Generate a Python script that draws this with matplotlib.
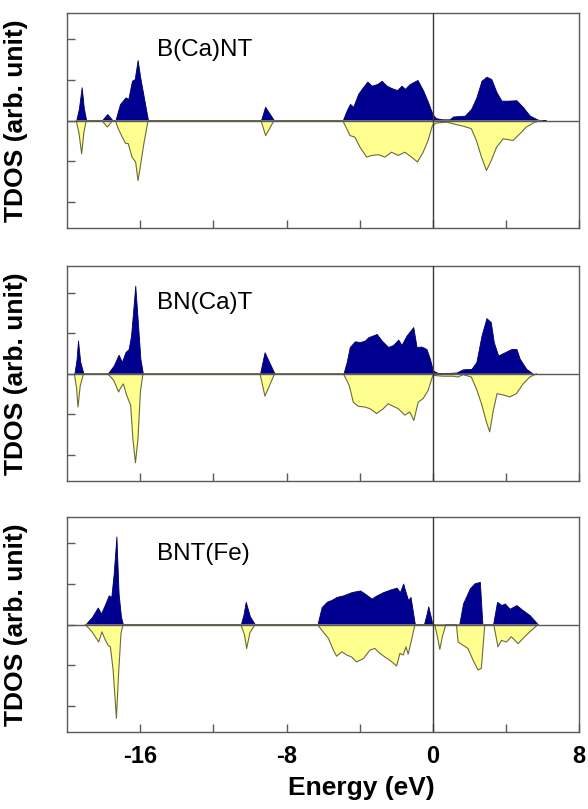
"""Spin-resolved TDOS of three doped BN nanotubes, stacked panels."""

import matplotlib

matplotlib.use("Agg")
import matplotlib.pyplot as plt
from matplotlib.ticker import FixedLocator, NullFormatter

plt.rcParams["font.family"] = ["Liberation Sans", "DejaVu Sans"]
plt.rcParams["axes.unicode_minus"] = False

# ---- data (energy in eV, DOS in arb. units) ----
labels = ["B(Ca)NT", "BN(Ca)T", "BNT(Fe)"]

# B(Ca)NT
e_up1 = [-19.5, -19.35, -19.2, -19.08, -18.95,
         -18.1, -17.8, -17.5,
         -17.36, -17.1, -16.8, -16.65, -16.45, -16.3, -16.14, -16.0, -15.8, -15.57,
         -9.4, -9.17, -8.68,
         -4.93, -4.71, -4.53, -4.35, -4.08, -3.89, -3.58, -3.35, -3.04, -2.8, -2.53,
         -2.26, -1.95, -1.71, -1.53, -1.26, -0.84, -0.53, -0.26, -0.02, 0.16, 0.5,
         0.93, 1.1, 1.75, 2.1, 2.38, 2.66, 2.93, 3.2, 3.48, 3.75, 4.11, 4.57, 4.93,
         5.3, 5.75, 6.2]
dos_up1 = [0, 0.3, 0.82, 0.3, 0,
           0, 0.16, 0,
           0, 0.41, 0.57, 0.53, 0.98, 1.02, 1.49, 1.07, 0.57, 0,
           0, 0.34, 0,
           0, 0.25, 0.41, 0.34, 0.66, 0.78, 0.96, 0.86, 0.9, 0.98, 0.86,
           0.8, 0.75, 0.86, 0.78, 0.9, 1.0, 0.74, 0.45, 0.16, 0.06, 0.03,
           0.03, 0.1, 0.12, 0.29, 0.57, 0.98, 1.08, 1.02, 0.7, 0.49, 0.49, 0.5, 0.33,
           0.12, 0.02, 0]
e_dn1 = [-19.5, -19.35, -19.2, -19.08, -18.95,
         -18.1, -17.8, -17.5,
         -17.36, -17.2, -16.98, -16.8, -16.65, -16.45, -16.25, -16.12, -16.0, -15.8,
         -15.57,
         -9.4, -9.14, -8.68,
         -4.93, -4.71, -4.53, -4.26, -3.98, -3.62, -3.35, -2.98, -2.62, -2.26, -1.89,
         -1.53, -1.17, -0.84, -0.53, -0.26, -0.02, 0.2, 0.75, 1.29, 1.75, 2.1, 2.38,
         2.66, 2.93, 3.2, 3.48, 3.84, 4.38, 4.75, 5.11, 5.57, 6.0]
dos_dn1 = [0, -0.3, -0.82, -0.3, 0,
           0, -0.16, 0,
           0, -0.2, -0.41, -0.56, -0.57, -0.9, -1.02, -1.48, -1.15, -0.57,
           0,
           0, -0.37, 0,
           0, -0.2, -0.37, -0.41, -0.66, -0.9, -0.86, -0.84, -0.9, -0.78, -0.86,
           -0.78, -0.9, -1.02, -0.78, -0.49, -0.12, -0.06, -0.04, -0.1, -0.15, -0.2,
           -0.49, -0.9, -1.23, -0.98, -0.66, -0.45, -0.49, -0.33, -0.16, -0.04, 0]

# BN(Ca)T
e_up2 = [-19.6, -19.48, -19.4, -19.28, -19.1,
         -17.78, -17.45, -17.18, -17.0, -16.81, -16.63, -16.5, -16.39, -16.27,
         -16.14, -15.99, -15.85,
         -9.45, -9.2, -8.65,
         -4.89, -4.71, -4.54, -4.26, -3.98, -3.71, -3.53, -3.07, -2.8, -2.44, -2.17,
         -1.89, -1.71, -1.44, -1.07, -0.89, -0.62, -0.35, -0.16, 0.0, 0.27, 0.8,
         1.29, 1.65, 2.11, 2.38, 2.66, 2.93, 3.17, 3.33, 3.57, 3.93, 4.3, 4.57, 4.75,
         5.11, 5.48]
dos_up2 = [0, 0.35, 0.82, 0.3, 0,
           0, 0.2, 0.47, 0.29, 0.53, 0.61, 0.94, 1.52, 2.17,
           1.35, 0.37, 0,
           0, 0.53, 0,
           0, 0.29, 0.66, 0.8, 0.78, 0.82, 0.9, 0.98, 0.82, 0.66, 0.71,
           0.84, 0.71, 0.94, 1.15, 0.66, 0.67, 0.61, 0.37, 0.08, 0.02, 0.02,
           0.03, 0.11, 0.12, 0.29, 0.94, 1.37, 1.27, 0.78, 0.45, 0.53, 0.61, 0.61, 0.37,
           0.12, 0]
e_dn2 = [-19.6, -19.48, -19.4, -19.28, -19.1,
         -17.78, -17.45, -17.18, -17.05, -16.92, -16.74, -16.52, -16.4, -16.26,
         -16.12, -15.99, -15.85,
         -9.45, -9.18, -8.65,
         -4.89, -4.57, -4.35, -4.08, -3.71, -3.44, -3.07, -2.71, -2.44, -2.17, -1.89,
         -1.53, -1.26, -1.04, -0.8, -0.53, -0.26, 0.0, 0.56, 1.1, 1.38, 1.65, 2.1,
         2.38, 2.66, 2.93, 3.11, 3.29, 3.51, 3.84, 4.2, 4.57, 4.93, 5.3, 5.66]
dos_dn2 = [0, -0.35, -0.82, -0.3, 0,
           0, -0.16, -0.45, -0.33, -0.25, -0.53, -0.78, -1.6, -2.19,
           -1.6, -0.45, 0,
           0, -0.55, 0,
           0, -0.29, -0.7, -0.8, -0.82, -0.86, -0.98, -0.86, -0.74, -0.8, -0.86,
           -1.02, -0.94, -1.15, -0.7, -0.61, -0.41, -0.04, -0.06, -0.06, -0.08,
           -0.02, -0.08,
           -0.37, -0.74, -1.19, -1.43, -0.94, -0.49, -0.52, -0.57, -0.49, -0.25, -0.08,
           0]

# BNT(Fe)
e_up3 = [-19.0, -18.63, -18.32, -18.14, -17.9, -17.72, -17.58, -17.45, -17.3,
         -17.18, -17.05, -16.94,
         -10.5, -10.35, -10.23, -10.0, -9.72,
         -6.31, -6.08, -5.8, -5.53, -5.26, -4.89, -4.44, -3.98, -3.71, -3.35, -3.07,
         -2.71, -2.35, -1.98, -1.8, -1.62, -1.53, -1.35, -1.22, -0.98,
         -0.49, -0.35, -0.25, -0.12, -0.02,
         1.44, 1.65, 2.02, 2.29, 2.57, 2.71,
         3.29, 3.51, 3.75, 3.93, 4.2, 4.57, 4.93, 5.3, 5.75]
dos_up3 = [0, 0.19, 0.42, 0.27, 0.52, 0.72, 0.68, 1.25, 2.17,
           0.76, 0.19, 0,
           0, 0.25, 0.56, 0.2, 0,
           0, 0.43, 0.56, 0.61, 0.68, 0.72, 0.8, 0.84, 0.76, 0.64, 0.72,
           0.8, 0.86, 0.91, 0.8, 1.01, 0.86, 0.6, 0.68, 0,
           0, 0.25, 0.45, 0.2, 0,
           0, 0.52, 0.89, 1.02, 1.05, 0,
           0, 0.56, 0.48, 0.52, 0.39, 0.48, 0.35, 0.23, 0]
e_dn3 = [-19.0, -18.63, -18.27, -18.09, -17.9, -17.75, -17.63, -17.48, -17.3,
         -17.18, -17.05, -16.94,
         -10.5, -10.3, -10.18, -10.0, -9.72,
         -6.31, -6.0, -5.71, -5.44, -5.26, -4.98, -4.71, -4.44, -4.17, -3.8, -3.44,
         -3.17, -2.89, -2.62, -2.35, -1.98, -1.8, -1.62, -1.47, -1.35, -1.17, -0.98,
         0.1, 0.25, 0.38, 0.52, 0.71,
         1.29, 1.38, 1.65, 1.92, 2.2, 2.47, 2.65, 2.84,
         3.33, 3.56, 3.75, 4.02, 4.29, 4.66, 4.93, 5.3, 5.75]
dos_dn3 = [0, -0.18, -0.43, -0.18, -0.39, -0.51, -0.55, -1.12, -2.31,
           -1.2, -0.22, 0,
           0, -0.25, -0.59, -0.2, 0,
           0, -0.18, -0.34, -0.63, -0.78, -0.67, -0.75, -0.8, -0.92, -0.84, -0.63,
           -0.59, -0.71, -0.8, -0.88, -1.02, -0.71, -0.75, -0.55, -0.73, -0.39, 0,
           0, -0.3, -0.61, -0.3, 0,
           0, -0.43, -0.51, -0.59, -0.88, -1.12, -1.08, 0,
           0, -0.55, -0.39, -0.43, -0.3, -0.47, -0.34, -0.18, 0]

panels = [
    (e_up1, dos_up1, e_dn1, dos_dn1),
    (e_up2, dos_up2, e_dn2, dos_dn2),
    (e_up3, dos_up3, e_dn3, dos_dn3),
]

# ---- figure ----
fig = plt.figure(figsize=(5.88, 8.09), dpi=100)
left, width = 0.114, 0.871
bottoms = [0.718, 0.405, 0.095]
height = 0.266
frame = "#5a5a5a"

for i, (eu, du, ed, dd) in enumerate(panels):
    ax = fig.add_axes([left, bottoms[i], width, height])
    ax.fill_between(eu, 0, du, facecolor="#000090", linewidth=0.6,
                    edgecolor="#000060", zorder=2)
    ax.fill_between(ed, 0, dd, facecolor="#FFFF90", linewidth=0, zorder=2)
    ax.plot(ed, dd, color="#6b6b3a", linewidth=0.8, zorder=3)
    ax.axhline(0, color=frame, linewidth=1.0, zorder=4)
    ax.axvline(0, color="#3a3a3a", linewidth=1.0, zorder=4)

    ax.set_xlim(-20, 8)
    ax.set_ylim(-2.65, 2.65)
    ax.xaxis.set_major_locator(FixedLocator([-16, -8, 0, 8]))
    ax.xaxis.set_minor_locator(FixedLocator([-12, -4, 4]))
    ax.yaxis.set_major_locator(FixedLocator([-2, -1, 0, 1, 2]))
    ax.yaxis.set_major_formatter(NullFormatter())
    ax.tick_params(axis="both", which="both", direction="in", length=6,
                   width=1.0, color=frame, top=False, right=False)
    for sp in ax.spines.values():
        sp.set_color(frame)
        sp.set_linewidth(1.0)

    if i < 2:
        ax.xaxis.set_major_formatter(NullFormatter())
    else:
        ax.tick_params(axis="x", which="major", labelsize=17, pad=9)
        for lab in ax.get_xticklabels():
            lab.set_fontweight("bold")
        ax.set_xlabel("Energy (eV)", fontsize=19, fontweight="bold")
        ax.xaxis.set_label_coords(0.574, -0.205)

    ax.set_ylabel("TDOS (arb. unit)", fontsize=19, fontweight="bold")
    ax.yaxis.set_label_coords(-0.076, 0.5)
    ax.text(0.176, 0.83, labels[i], transform=ax.transAxes, fontsize=17.5,
            ha="left", va="center")

fig.savefig("out.png", dpi=100)
